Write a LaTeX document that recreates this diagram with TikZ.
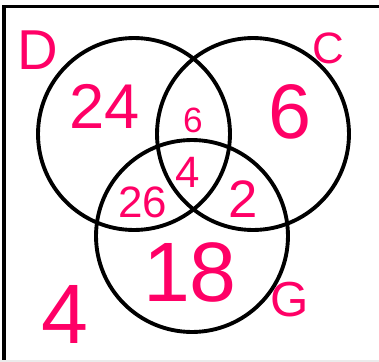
\documentclass[tikz,border=0pt]{standalone}
\usepackage{fontspec}
\setmainfont{Liberation Sans}
\usetikzlibrary{positioning}
\definecolor{rosa}{HTML}{FF0066}
\definecolor{gris}{HTML}{EBEBEB}

\begin{document}
\begin{tikzpicture}[x=0.02cm, y=-0.02cm,
  ring/.style={draw=black, line width=2.2pt, circle, minimum size=3.84cm, inner sep=0pt},
  num/.style={text=rosa, inner sep=0pt, font=\fontsize{#1}{#1}\selectfont}]
  \useasboundingbox (0,0) rectangle (379,362);
  % marco
  \draw[line width=1.8pt] (4,362) -- (4,6.5) -- (379,6.5);
  \draw[gris, line width=1pt] (0,361) -- (379,361);
  % conjuntos
  \node[ring] (D) at (134,134) {};
  \node[ring] (C) at (253,134) {};
  \node[ring] (G) at (192,236) {};
  % nombres
  \node[num=32] (nD) at (38,50) {D};
  \node[num=25] (nC) at (328,48) {C};
  \node[num=28] (nG) at (290,300) {G};
  % regiones
  \node[num=36] (sD) at (105,106) {24};
  \node[num=20] (sDC) at (193,120) {6};
  \node[num=44] (sC) at (290,112) {6};
  \node[num=25] (sDCG) at (188,172) {4};
  \node[num=25] (sDG) at (143,202) {26};
  \node[num=30] (sCG) at (243,199) {2};
  \node[num=48] (sG) at (190,272) {18};
  \node[num=48] (fuera) at (65,314) {4};
\end{tikzpicture}
\end{document}
